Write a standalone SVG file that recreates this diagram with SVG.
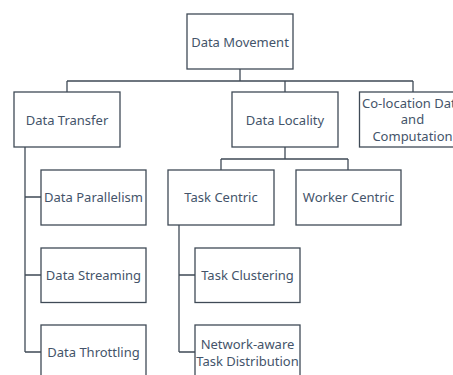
<svg xmlns="http://www.w3.org/2000/svg" width="453" height="375" viewBox="0 0 453 375">
<style>
.box{fill:#fff;stroke:#3f4a56;stroke-width:1.3}
.c{fill:none;stroke:#3f4a56;stroke-width:1.3}
text{font-family:"Noto Sans","Open Sans",sans-serif;font-size:13px;fill:#44546a;text-anchor:middle;dominant-baseline:central}
</style>
<rect width="453" height="375" fill="#fff"/>
<g id="connectors">
<path class="c" d="M240 69V81M67 81H413M67 81V92M285 81V92M413 81V92"/>
<path class="c" d="M25 147V352M25 197H41M25 275H41M25 352H41"/>
<path class="c" d="M285 147V159M221 159H348M221 159V170M348 159V170"/>
<path class="c" d="M179 225V352M179 275H195M179 352H195"/>
</g>
<g id="data-movement"><rect class="box" x="187" y="14" width="106" height="55"/><text x="240" y="42">Data Movement</text></g>
<g id="data-transfer"><rect class="box" x="14" y="92" width="106" height="55"/><text x="67" y="120">Data Transfer</text></g>
<g id="data-locality"><rect class="box" x="232" y="92" width="106" height="55"/><text x="285" y="120">Data Locality</text></g>
<g id="co-location"><rect class="box" x="359.5" y="92" width="106" height="55"/><text x="412.5" y="102.5">Co-location Data</text><text x="412.5" y="119">and</text><text x="412.5" y="135.5">Computation</text></g>
<g id="data-parallelism"><rect class="box" x="41" y="170" width="105" height="55"/><text x="93.5" y="197">Data Parallelism</text></g>
<g id="data-streaming"><rect class="box" x="41" y="248" width="105" height="54.5"/><text x="93.5" y="275">Data Streaming</text></g>
<g id="data-throttling"><rect class="box" x="41" y="325" width="105" height="55"/><text x="93.5" y="352">Data Throttling</text></g>
<g id="task-centric"><rect class="box" x="168" y="170" width="106" height="55"/><text x="221" y="197">Task Centric</text></g>
<g id="worker-centric"><rect class="box" x="296" y="170" width="105" height="55"/><text x="348.5" y="197">Worker Centric</text></g>
<g id="task-clustering"><rect class="box" x="195" y="248" width="105" height="54.5"/><text x="247.5" y="275">Task Clustering</text></g>
<g id="network-aware"><rect class="box" x="195" y="325" width="105" height="55"/><text x="247.5" y="344">Network-aware</text><text x="247.5" y="360.5">Task Distribution</text></g>
</svg>
